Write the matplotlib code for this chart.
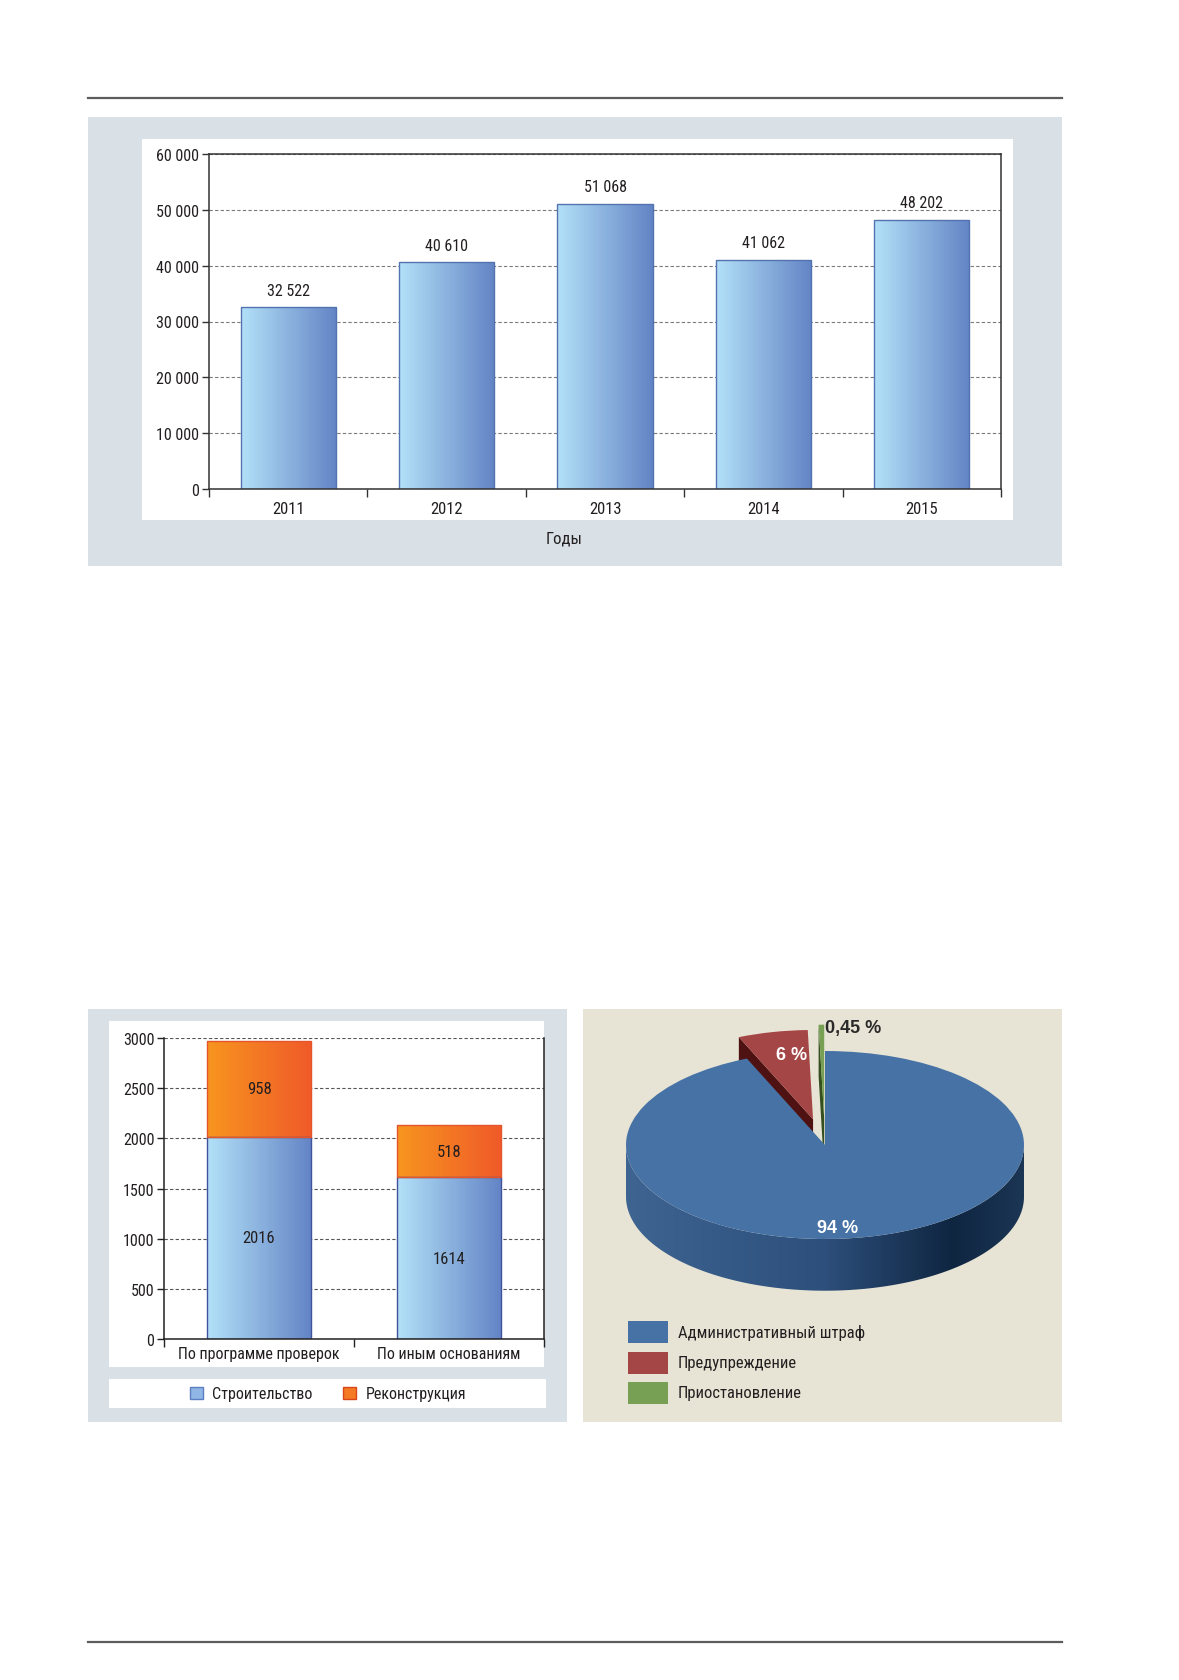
import matplotlib.pyplot as plt
import numpy as np
from matplotlib import font_manager as fm
from matplotlib.patches import Rectangle, Polygon
from matplotlib.lines import Line2D
from matplotlib.colors import LinearSegmentedColormap
from matplotlib.ticker import FuncFormatter, MultipleLocator


def pick_font():
    # the original uses a condensed grotesque, take the closest one installed
    fonts = fm.fontManager.ttflist
    names = {f.name for f in fonts}
    for name in ['Liberation Sans Narrow', 'Arial Narrow', 'Roboto Condensed', 'Open Sans Condensed']:
        if name in names:
            return name, 'normal'
    for name in ['DejaVu Sans', 'Noto Sans', 'Open Sans', 'Roboto', 'Inter']:
        if any(f.name == name and f.stretch == 'condensed' for f in fonts):
            return name, 'condensed'
    return 'Liberation Sans', 'normal'


font_name, font_stretch = pick_font()
plt.rcParams['font.family'] = [font_name, 'DejaVu Sans']
plt.rcParams['font.stretch'] = font_stretch
plt.rcParams['text.color'] = '#231f20'
plt.rcParams['xtick.color'] = '#231f20'
plt.rcParams['ytick.color'] = '#231f20'
FS = 11.5

# data
years = ['2011', '2012', '2013', '2014', '2015']
checks = [32522, 40610, 51068, 41062, 48202]
x_title = 'Годы'

groups = ['По программе проверок', 'По иным основаниям']
build = [2016, 1614]
rebuild = [958, 518]
stack_names = ['Строительство', 'Реконструкция']

pie_labels = ['Административный штраф', 'Предупреждение', 'Приостановление']
pie_values = [94, 6, 0.45]
pie_text = ['94 %', '6 %', '0,45 %']
pie_colors = ['#4672a5', '#a54646', '#78a055']

W, H = 1179, 1681
fig = plt.figure(figsize=(W / 100, H / 100), dpi=100)


def box(x0, y0, x1, y1):
    # pixel box, origin top-left -> figure fraction [l, b, w, h]
    return [x0 / W, 1 - y1 / H, (x1 - x0) / W, (y1 - y0) / H]


def panel(x0, y0, x1, y1, color):
    l, b, w, h = box(x0, y0, x1, y1)
    fig.add_artist(Rectangle((l, b), w, h, transform=fig.transFigure,
                             facecolor=color, lw=0, zorder=-1))


def rule(y):
    fig.add_artist(Line2D([88 / W, 1062 / W], [1 - y / H] * 2, transform=fig.transFigure,
                          color='#5c5c5c', lw=1.6, zorder=-1))


def spaced(v):
    return f'{int(v):,}'.replace(',', ' ')


def grad_bars(ax, bars, c0, c1):
    cmap = LinearSegmentedColormap.from_list('g', [c0, c1])
    grad = np.linspace(0, 1, 256).reshape(1, -1)
    for b in bars:
        x0, y0 = b.get_xy()
        im = ax.imshow(grad, cmap=cmap, aspect='auto', zorder=1.9,
                       extent=(x0, x0 + b.get_width(), y0, y0 + b.get_height()))
        im.set_clip_path(b)
        b.set_facecolor('none')


rule(99)
rule(1643)

# ---- top chart ----
panel(88, 118, 1062, 567, '#d9e0e6')
panel(142, 140, 1013, 521, 'white')
ax1 = fig.add_axes(box(209, 155, 1001, 490))
xpos = np.arange(len(years))
bars = ax1.bar(xpos, checks, width=0.6, edgecolor='#5272b0', linewidth=1, zorder=2)
grad_bars(ax1, bars, '#b3e1f8', '#6384c5')
ax1.set_xlim(-0.5, len(years) - 0.5)
ax1.set_ylim(0, 60000)
ax1.yaxis.set_major_locator(MultipleLocator(10000))
ax1.yaxis.set_major_formatter(FuncFormatter(lambda v, p: spaced(v)))
ax1.grid(axis='y', ls=(0, (3, 2)), color='#7a7a7a', lw=0.8)
ax1.set_axisbelow(True)
ax1.set_xticks(xpos)
ax1.set_xticklabels(years)
ax1.set_xticks(np.arange(len(years) + 1) - 0.5, minor=True)
ax1.tick_params(axis='x', which='major', length=0, pad=9, labelsize=FS + 0.5)
ax1.tick_params(axis='x', which='minor', length=6, width=1, color='#333')
ax1.tick_params(axis='y', length=5, width=1, pad=2, labelsize=FS, color='#333')
for s in ax1.spines.values():
    s.set_color('#333')
    s.set_linewidth(1.1)
ax1.bar_label(bars, labels=[spaced(v) for v in checks], padding=7, fontsize=FS)
fig.text(564 / W, 1 - 539 / H, x_title, ha='center', va='center', fontsize=FS + 0.5)

# ---- bottom left: stacked bars ----
panel(88, 1010, 567, 1423, '#d9e0e6')
panel(109, 1022, 544, 1368, 'white')
panel(109, 1380, 546, 1409, 'white')
ax2 = fig.add_axes(box(164, 1039, 544, 1340))
gpos = np.arange(len(groups))
b1 = ax2.bar(gpos, build, width=0.55, edgecolor='#42529c', linewidth=1, zorder=2)
b2 = ax2.bar(gpos, rebuild, bottom=build, width=0.55, edgecolor='#e4552c', linewidth=1, zorder=2)
grad_bars(ax2, b1, '#b3e1f8', '#6384c5')
grad_bars(ax2, b2, '#f7951f', '#f05a29')
ax2.set_xlim(-0.5, len(groups) - 0.5)
ax2.set_ylim(0, 3000)
ax2.yaxis.set_major_locator(MultipleLocator(500))
ax2.grid(axis='y', ls=(0, (3, 2)), color='#555', lw=0.8)
ax2.set_axisbelow(True)
ax2.spines['top'].set_visible(False)
for s in ['left', 'right', 'bottom']:
    ax2.spines[s].set_color('#222')
    ax2.spines[s].set_linewidth(1.1)
ax2.set_xticks(gpos)
ax2.set_xticklabels(groups)
ax2.set_xticks(np.arange(len(groups) + 1) - 0.5, minor=True)
ax2.tick_params(axis='x', which='major', length=0, pad=5, labelsize=FS)
ax2.tick_params(axis='x', which='minor', length=6, width=1, color='#222')
ax2.tick_params(axis='y', length=5, width=1, pad=2, labelsize=FS, color='#222')
ax2.bar_label(b1, label_type='center', fontsize=FS + 0.5)
ax2.bar_label(b2, label_type='center', fontsize=FS + 0.5)
handles = [Rectangle((0, 0), 1, 1, facecolor='#8fb6e4', edgecolor='#5b7fc0'),
           Rectangle((0, 0), 1, 1, facecolor='#f47a24', edgecolor='#d8461a')]
fig.legend(handles, stack_names, loc='center', bbox_to_anchor=(328 / W, 1 - 1395 / H),
           ncol=2, frameon=False, fontsize=FS, handlelength=0.8, handleheight=0.8,
           handletextpad=0.6, columnspacing=1.9)

# ---- bottom right: 3D-style pie ----
panel(583, 1010, 1062, 1423, '#e8e4d5')
ax3 = fig.add_axes(box(600, 1015, 1050, 1320))
ylim3 = (-1.851, 1.3936)
xlim3 = (-1.1307, 1.1307)
wedges, _ = ax3.pie(pie_values, colors=pie_colors, startangle=90, counterclock=False,
                    explode=[0, 0.28, 0.28], radius=1, wedgeprops=dict(lw=0))
ax3.set_aspect('auto')
depth = 0.55
wedges[1].set_radius(0.95)

# side of the main slice (front half of the rim)
cx, cy = wedges[0].center
t = np.radians(np.linspace(-180, 0, 200))
top = np.column_stack([cx + np.cos(t), cy + np.sin(t)])
bot = top - [0, depth]
side = Polygon(np.vstack([top, bot[::-1]]), closed=True, facecolor='none', lw=0)
ax3.add_patch(side)
side_cmap = LinearSegmentedColormap.from_list(
    's', [(0, '#3e6492'), (0.5, '#2d4f7b'), (0.82, '#0f2641'), (1, '#1b3554')])
im = ax3.imshow(np.linspace(0, 1, 256).reshape(1, -1), cmap=side_cmap, aspect='auto',
                extent=(cx - 1, cx + 1, cy - 1 - depth, cy), zorder=3)
im.set_clip_path(side)
ax3.set_xlim(*xlim3)
ax3.set_ylim(*ylim3)

# radial side faces of the pulled-out slices
for w, c in zip(wedges[1:], ['#4e1212', '#34501f']):
    wx, wy = w.center
    a = np.radians(w.theta2)
    p = [wx + w.r * np.cos(a), wy + w.r * np.sin(a)]
    ax3.add_patch(Polygon([[wx, wy], p, [p[0], p[1] - depth], [wx, wy - depth]],
                          closed=True, facecolor=c, lw=0, zorder=1))
for w in wedges[1:]:
    w.set_zorder(2)
wedges[0].set_zorder(4)

bold = dict(fontsize=13, fontweight='bold', family=['Liberation Sans', 'DejaVu Sans'],
            stretch='normal', zorder=5)
ax3.text(0.065, -0.88, pie_text[0], ha='center', va='center', color='white', **bold)
ax3.text(-0.17, 0.96, pie_text[1], ha='center', va='center', color='white', **bold)
ax3.text(0.0, 1.255, pie_text[2], ha='left', va='center', color='#2a2a2a', **bold)

# legend of the pie
for i, (lab, col) in enumerate(zip(pie_labels, pie_colors)):
    yc = 1333 + i * 30.5
    l, b, w_, h_ = box(628, yc - 11, 668, yc + 11)
    fig.add_artist(Rectangle((l, b), w_, h_, transform=fig.transFigure,
                             facecolor=col, lw=0))
    fig.text(678 / W, 1 - yc / H, lab, ha='left', va='center', fontsize=12)

fig.savefig('out.png', dpi=100)
